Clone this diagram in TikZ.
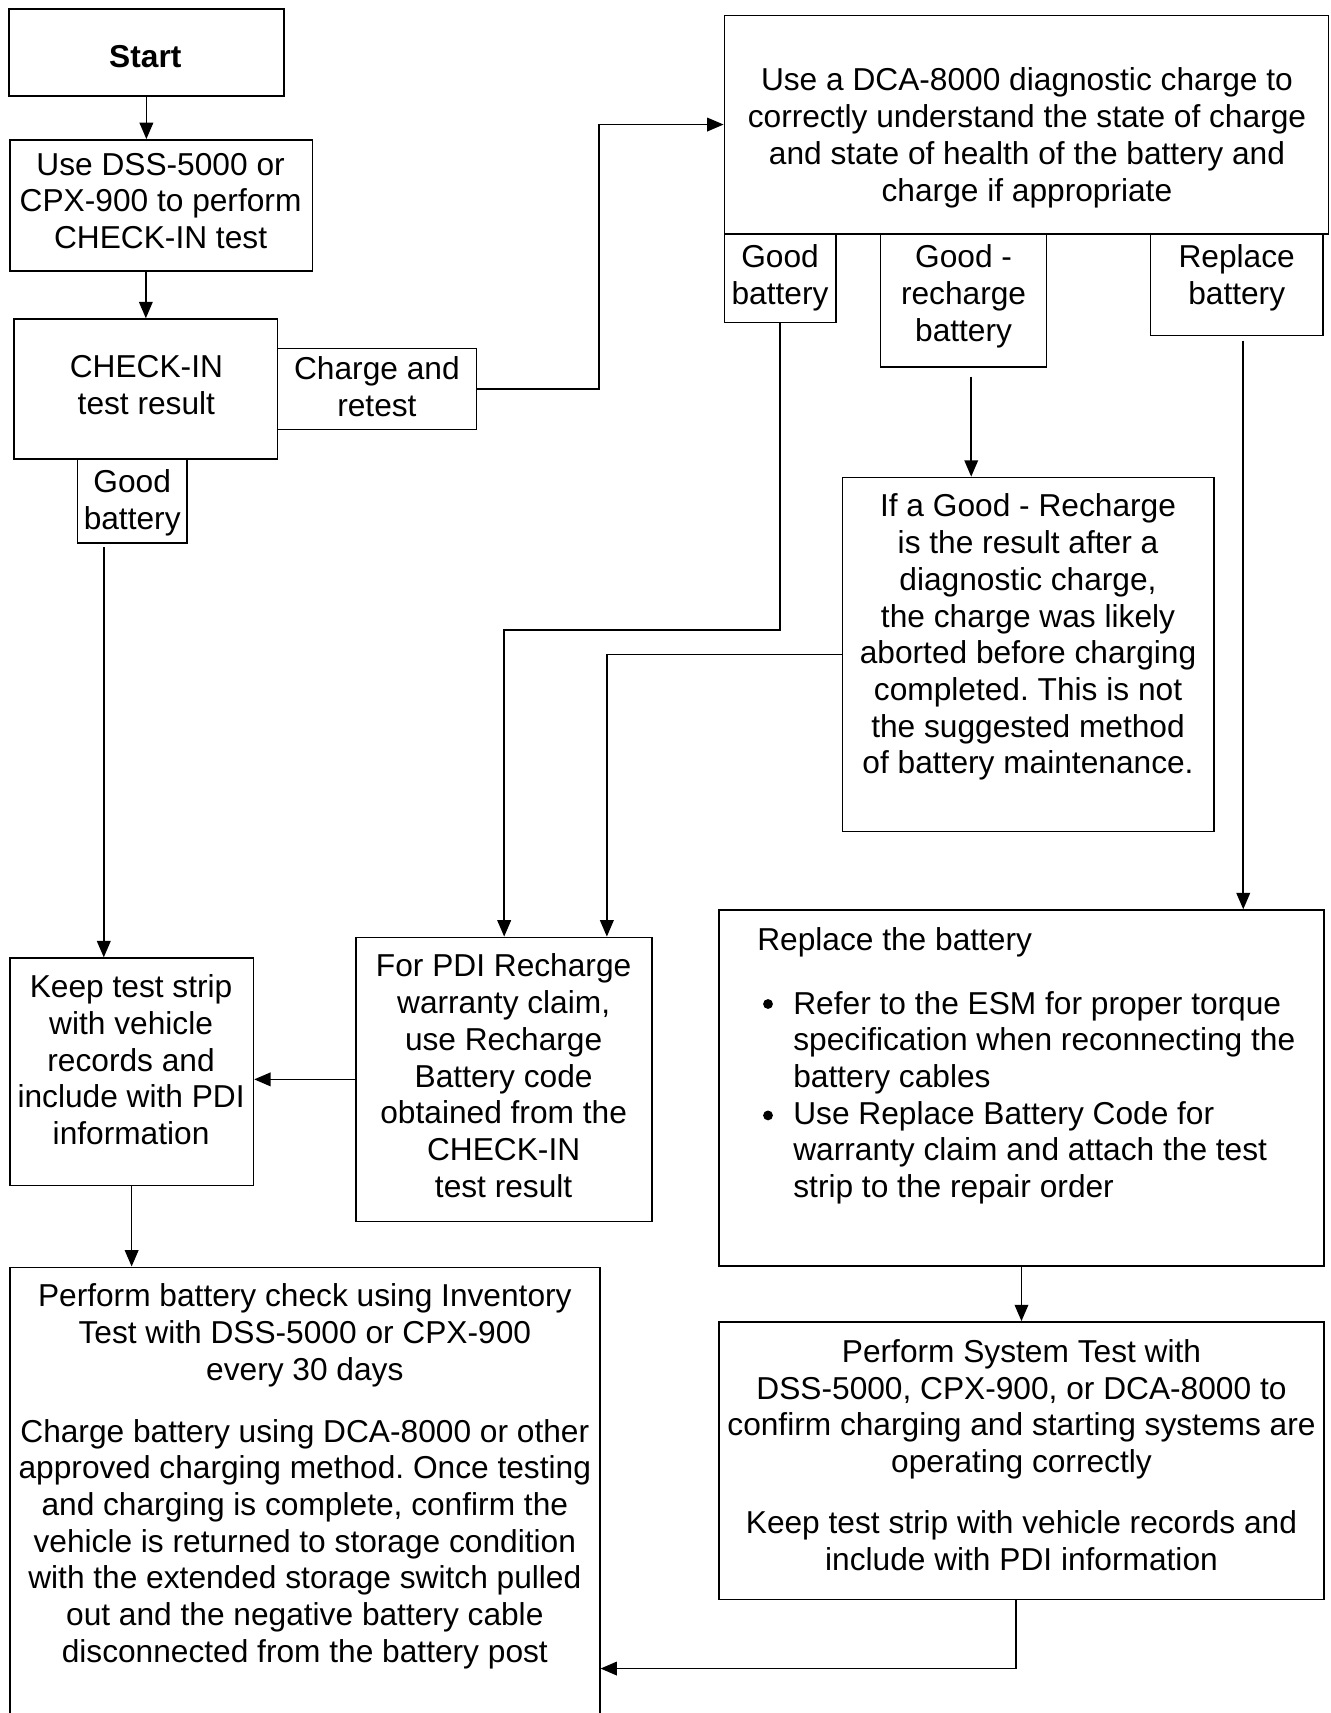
\documentclass[tikz,border=0pt]{standalone}
\usepackage{fontspec}
\usetikzlibrary{arrows.meta,fit,calc}
\newfontfamily\regfont{Liberation Sans}
\newcommand\regtxt{\regfont\fontsize{29}{33.6}\selectfont\frenchspacing}
\tikzset{
  box/.style={draw, line width=1.4pt, inner sep=0pt},
  arr/.style={line width=1.4pt, -{Triangle[length=15pt,width=12.5pt]}},
  rtext/.style={font=\regtxt, align=center, inner sep=0pt, anchor=north},
}
\begin{document}
\begin{tikzpicture}[x=1pt,y=-1pt]
\path[use as bounding box, fill=white] (0,0) rectangle (1218,1568);

% boxes
\node[box, fit={(8,8)(260,88)}] (start) {};
\node[box, fit={(9,128)(286,248)}] (use) {};
\node[box, fit={(13,292)(254,420)}] (checkin) {};
\node[box, fit={(254,319)(436,393)}] (charge) {};
\node[box, fit={(71,420)(171,497)}] (gb1) {};
\node[box, fit={(663,14)(1216,214)}] (dca) {};
\node[box, fit={(663,214)(765,295)}] (gb2) {};
\node[box, fit={(806,214)(958,336)}] (gr) {};
\node[box, fit={(1053,214)(1211,307)}] (rb) {};
\node[box, fit={(771,437)(1111,761)}] (ifbox) {};
\node[box, fit={(9,877)(232,1085)}] (keep) {};
\node[box, fit={(326,858)(597,1118)}] (pdi) {};
\node[box, fit={(658,833)(1212,1159)}] (repl) {};
\node[box, fit={(658,1210)(1212,1464)}] (sys) {};
\node[box, fit={(9,1160)(549,1580)}] (perf) {};

% texts
\node[rtext] (start-t) at (133,41) {\bfseries Start};
\node[rtext] (use-t) at (147,140) {Use DSS-5000 or\\CPX-900 to perform\\CHECK-IN test};
\node[rtext] (checkin-t) at (134,325) {CHECK-IN\\test result};
\node[rtext] (charge-t) at (345,326) {Charge and\\retest};
\node[rtext] (gb1-t) at (121,430) {Good\\battery};
\node[rtext] (dca-t) at (940,62) {Use a DCA-8000 diagnostic charge to\\correctly understand the state of charge\\and state of health of the battery and\\charge if appropriate};
\node[rtext] (gb2-t) at (714,224) {Good\\battery};
\node[rtext] (gr-t) at (882,224) {Good -\\recharge\\battery};
\node[rtext] (rb-t) at (1132,224) {Replace\\battery};
\node[rtext] (if-t) at (941,452) {If a Good - Recharge\\is the result after a\\diagnostic charge,\\the charge was likely\\aborted before charging\\completed. This is not\\the suggested method\\of battery maintenance.};
\node[rtext] (keep-t) at (120,892) {Keep test strip\\with vehicle\\records and\\include with PDI\\information};
\node[rtext] (pdi-t) at (461,873) {For PDI Recharge\\warranty claim,\\use Recharge\\Battery code\\obtained from the\\CHECK-IN\\test result};
\node[rtext, anchor=north west] (repl-t) at (693,849) {Replace the battery};
\node[rtext, anchor=north west, align=left] (repl-items) at (726,907) {Refer to the ESM for proper torque\\specification when reconnecting the\\battery cables\\Use Replace Battery Code for\\warranty claim and attach the test\\strip to the repair order};
\fill (703,919) circle (4.5pt);
\fill (703,1021) circle (4.5pt);
\node[rtext] (perf-t) at (279,1175) {Perform battery check using Inventory\\Test with DSS-5000 or CPX-900\\every 30 days\\[23pt]Charge battery using DCA-8000 or other\\approved charging method. Once testing\\and charging is complete, confirm the\\vehicle is returned to storage condition\\with the extended storage switch pulled\\out and the negative battery cable\\disconnected from the battery post};
\node[rtext] (sys-t) at (935,1226) {Perform System Test with\\DSS-5000, CPX-900, or DCA-8000 to\\confirm charging and starting systems are\\operating correctly\\[22pt]Keep test strip with vehicle records and\\include with PDI information};

% connectors
\draw[arr] (start.south) -- (start.south |- use.north);
\draw[arr] (use.south -| checkin.north) -- (checkin.north);
\draw[arr] (charge.east) -| ($(dca.west)+(-114,0)$) -- (dca.west);
\draw[arr] (gb2.south) -- ++(0,281) -| (pdi.north);
\draw[arr] ([xshift=7pt,yshift=-8pt]gr.south) -- ([xshift=7pt]gr.south |- ifbox.north);
\draw[arr] (ifbox.west) -| ([xshift=94pt]pdi.north);
\draw[arr] ([xshift=6pt,yshift=-4pt]rb.south) -- ([xshift=6pt]rb.south |- repl.north);
\draw[arr] ([xshift=-26pt,yshift=-3pt]gb1.south) -- ([xshift=-26pt]gb1.south |- keep.north);
\draw[arr] (pdi.west) -- (pdi.west -| keep.east);
\draw[arr] (keep.south) -- (keep.south |- perf.north);
\draw[arr] (repl.south) -- (sys.north);
\draw[arr] ([xshift=-5pt]sys.south) |- ($(perf.north east)+(0,368)$);
\end{tikzpicture}
\end{document}
